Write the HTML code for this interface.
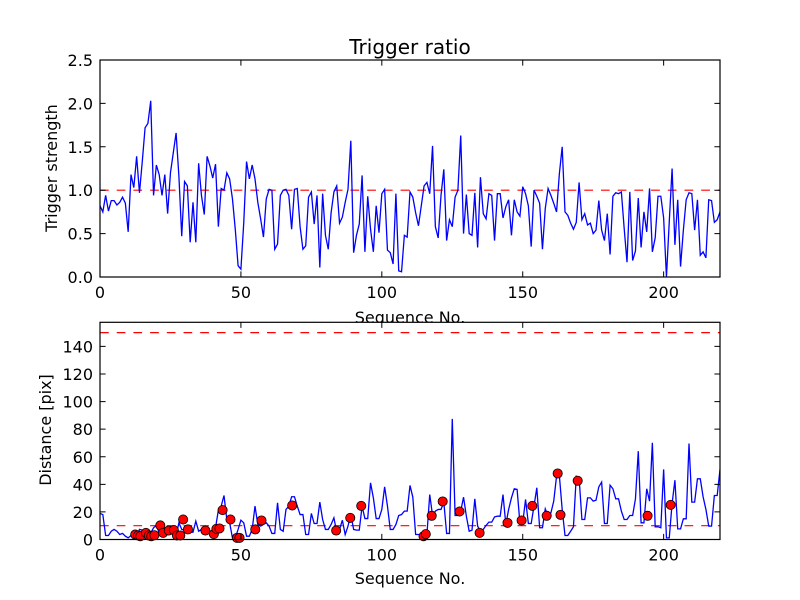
<!DOCTYPE html>
<html><head><meta charset="utf-8"><style>
html,body{margin:0;padding:0;background:#fff}
svg{display:block;font-family:"DejaVu Sans","Liberation Sans",sans-serif}
</style></head><body>
<svg id="chart" width="800" height="600" viewBox="0 0 800 600" xmlns="http://www.w3.org/2000/svg">
<rect width="800" height="600" fill="#fff"/>
<defs>
<clipPath id="c1"><rect x="100" y="60" width="620" height="217"/></clipPath>
<clipPath id="c2"><rect x="100" y="322.3" width="620" height="217"/></clipPath>
</defs>
<g id="top"></g>
<g id="bot"></g>
</svg>
<script>
const ratioTop1 = [0.82,0.75,0.94,0.76,0.88,0.88,0.83,0.86,0.92,0.85,0.52,1.18,1.03,1.39,0.97,1.33,1.72,1.77,2.03,0.94,1.29,1.18,0.94,1.18,0.73,1.2,1.43,1.66,1.16,0.47,1.1,1.05,0.4,0.86,0.4,1.31,0.94,0.72,1.39,1.28,1.14,1.3,0.58,1.02,1.0,1.2,1.13,0.9,0.55,0.13,0.09,0.62,1.33,1.13,1.29,1.13,0.86,0.67,0.46,0.9,1.01,1.0,0.32,0.38,0.94,1.0,1.01,0.94,0.55,1.01,1.02,0.58,0.32,0.36,0.92];
const ratioTop2 = [0.98,0.61,0.94,0.11,0.96,0.48,0.32,0.74,0.98,1.05,0.62,0.69,0.86,1.01,1.57,0.28,0.48,0.61,1.17,0.29,0.93,0.55,0.29,0.82,0.51,0.96,1.01,0.31,0.28,0.15,0.96,0.07,0.06,0.48,0.46,0.98,0.92,0.74,0.59,0.82,1.05,1.09,0.96,1.51,0.58,0.45,0.94,1.24,0.42,0.66,0.58,0.92,1.0,1.63,0.5,0.95,0.5,0.48,0.97,0.34,1.15,0.73,0.67,0.96,0.94,0.42,0.96,0.96,0.68,0.81];
const ratioTop3 = [0.89,0.48,0.89,0.75,0.70,1.04,0.96,0.82,0.35,1.0,0.93,0.85,0.32,0.79,1.02,0.94,0.85,0.75,1.19,1.50,0.75,0.71,0.62,0.55,0.63,1.09,0.66,0.73,0.6,0.62,0.5,0.54,0.88,0.54,0.42,0.73,0.26,0.93,0.97,0.96,0.98,0.56,0.17,0.98,0.19,0.3,0.91,0.34,0.75,0.52,1.02,0.29,0.45,0.93,0.93,0.68,0.0,0.64,1.25,0.37,0.89,0.12,0.54,0.89,0.97,0.96,0.54,0.89,0.25,0.29,0.22,0.89,0.88,0.63,0.66,0.75,0.8];
const ratio = ratioTop1.concat(ratioTop2, ratioTop3);
const dist1 = [18.9,18.1,2.9,2.9,6.0,7.3,6.0,3.6,4.4,2.4,1.2,2.9,1.2,1.7,7.3,6.8,2.9,2.9,4.8,8.5,10.2,4.8,5.3,7.3,7.3,6.5,2.9,2.9,12.1,7.3,6.8,7.3,5.3,5.3,13.3,6.0,7.3,7.3,5.3,4.4,7.7,8.5,21.3,24.2,31.9,14.5,12.1,1.2,1.2,7.3,14.0,12.1,2.4,2.4,7.3,24.2,10.9,9.7,10.9,12.1,9.7,4.4,4.4,26.6,7.3,6.0,21.8,24.2,31.0,31.0,24.2,18.1,18.1,3.6,3.6];
const dist2 = [18.9,11.6,11.6,27.1,14.5,7.3,7.3,10.9,15.7,5.3,7.3,14.0,3.6,9.7,18.1,7.3,6.8,6.8,24.2,15.2,15.2,41.1,30.2,15.2,15.2,21.8,38.2,24.2,7.3,7.3,10.9,17.4,18.1,20.6,20.6,39.2,30.7,3.6,3.6,2.9,1.9,3.6,32.6,17.4,20.6,21.8,21.8,27.1,4.4,4.4,87.5,17.4,17.4,20.6,30.7,16.9,6.0,6.8,29.5,9.7,6.0,7.3,10.2,12.6,12.6,16.4,16.9,16.9,32.6,10.9];
const dist3 = [21.8,30.2,36.8,36.3,12.1,12.1,29.0,11.6,11.6,24.2,37.5,8.5,8.5,22.2,16.9,19.3,27.8,45.9,46.4,21.8,2.9,2.9,6.0,9.2,45.9,44.7,14.5,14.5,30.2,30.2,27.8,28.5,38.2,41.6,11.6,11.6,39.4,36.8,29.5,29.5,20.6,14.5,14.5,17.4,17.4,29.5,64.1,12.1,12.1,36.8,27.8,70.1,9.2,9.2,8.5,50.8,1.2,1.2,26.1,43.0,7.7,7.7,15.0,15.0,69.6,27.1,27.1,44.0,44.0,31.0,21.8,9.7,9.7,31.9,31.9,50.8,29.5];
const dist = dist1.concat(dist2, dist3);
const markerIdx = [12.5,13.5,14.3,16.3,17.3,18.2,19.3,21.4,22.4,24.4,26.2,27.3,28.5,29.5,31.2,37.4,40.4,41.3,42.4,43.5,46.3,48.6,49.5,55.1,57.3,68.2,83.8,88.8,92.7,114.8,115.6,117.7,121.6,127.6,134.7,144.6,149.6,153.4,158.5,162.4,163.4,169.5,194.3,202.5];
const markerVal = [3.6,2.9,2.4,4.8,2.9,2.4,3.1,10.2,4.8,6.5,6.8,2.9,2.9,14.5,7.3,6.5,3.9,7.7,8.0,21.3,14.5,1.2,1.2,7.3,13.8,24.7,6.5,15.7,24.4,2.4,3.9,17.2,27.6,20.3,4.8,12.1,13.8,24.4,17.2,47.9,17.9,42.6,17.2,25.1];
const xTicks = [0,50,100,150,200];
const yTicksTop = [0.0,0.5,1.0,1.5,2.0,2.5];
const yTicksBot = [0,20,40,60,80,100,120,140];
const ratioThreshold = 1.0;
const distThresholds = [10,150];

const NS='http://www.w3.org/2000/svg';
function mk(parent,tag,attrs,text){const e=document.createElementNS(NS,tag);for(const k in attrs)e.setAttribute(k,attrs[k]);if(text!==undefined)e.textContent=text;parent.appendChild(e);return e;}
const L=100,R=720,xMax=220;
const sx=v=>L+(v/xMax)*(R-L);

function axes(g,top,bot,yMax){
  const sy=v=>bot-(v/yMax)*(bot-top);
  mk(g,'rect',{x:L,y:top,width:R-L,height:bot-top,fill:'#fff'});
  return sy;
}
function frame(g,top,bot,sy,yTicks,fmt){
  const t=5.6;
  xTicks.forEach(v=>{
    const x=sx(v);
    const tk=mk(g,'path',{d:`M${x},${bot}v${-t}M${x},${top}v${t}`,stroke:'#000','stroke-width':1});
    
    
    const lb=mk(g,'text',{x:x,y:bot+21,'font-size':16,'text-anchor':'middle'},String(v));
    
    
  });
  yTicks.forEach(v=>{
    const y=sy(v);
    const tk=mk(g,'path',{d:`M${L},${y}h${t}M${R},${y}h${-t}`,stroke:'#000','stroke-width':1});
    
    
    const lb=mk(g,'text',{x:93,y:y+6,'font-size':16,'text-anchor':'end'},fmt(v));
    
    
  });
  const f=mk(g,'rect',{x:L,y:top,width:R-L,height:bot-top,fill:'none',stroke:'#000','stroke-width':1.2});
  
  
}
const gt=document.getElementById('top'), gb=document.getElementById('bot');
const T1=60,B1=277,T2=322.3,B2=539.5;
const syT=axes(gt,T1,B1,2.5);
const thr=mk(gt,'line',{x1:L,x2:R,y1:syT(ratioThreshold),y2:syT(ratioThreshold),stroke:'#f00','stroke-width':1.2,'stroke-dasharray':'8.7,8','clip-path':'url(#c1)'});


const lt=mk(gt,'polyline',{points:ratio.map((v,i)=>sx(i)+','+syT(v)).join(' '),fill:'none',stroke:'#00f','stroke-width':1.3,'clip-path':'url(#c1)'});


frame(gt,T1,B1,syT,yTicksTop,v=>v.toFixed(1));
const ti=mk(gt,'text',{x:410,y:54,'font-size':20,'text-anchor':'middle'},'Trigger ratio');


const yl1=mk(gt,'text',{x:0,y:0,'font-size':16,'text-anchor':'middle',transform:'translate(57,168) rotate(-90)'},'Trigger strength');


const xl1=mk(gt,'text',{x:410,y:323,'font-size':16,'text-anchor':'middle'},'Sequence No.');


const syB=axes(gb,T2,B2,157.5);
distThresholds.forEach(v=>{
  const l=mk(gb,'line',{x1:L,x2:R,y1:syB(v),y2:syB(v),stroke:'#f00','stroke-width':1.2,'stroke-dasharray':'8.7,8','clip-path':'url(#c2)'});
  
  
});
const lb2=mk(gb,'polyline',{points:dist.map((v,i)=>sx(i)+','+syB(v)).join(' '),fill:'none',stroke:'#00f','stroke-width':1.3,'clip-path':'url(#c2)'});


markerIdx.forEach((ix,k)=>{
  const c=mk(gb,'circle',{cx:sx(ix),cy:syB(markerVal[k]),r:4.6,fill:'#f00',stroke:'#000','stroke-width':0.8});
  
  
});
frame(gb,T2,B2,syB,yTicksBot,v=>String(v));
const yl2=mk(gb,'text',{x:0,y:0,'font-size':16,'text-anchor':'middle',transform:'translate(51,430) rotate(-90)'},'Distance [pix]');


const xl2=mk(gb,'text',{x:410,y:584,'font-size':16,'text-anchor':'middle'},'Sequence No.');


</script>
</body></html>
